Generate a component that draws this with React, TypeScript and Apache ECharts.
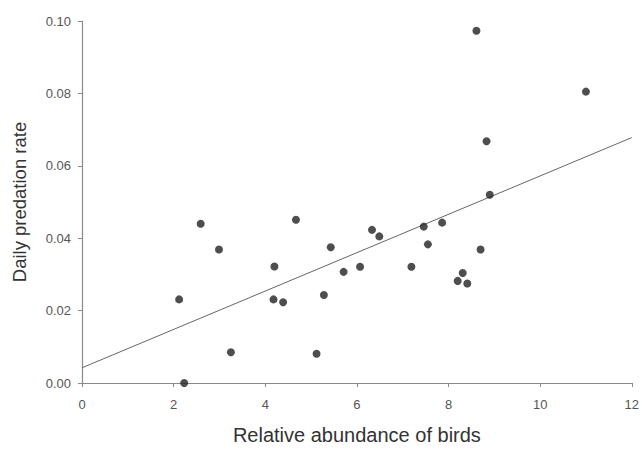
import React, { useEffect, useRef } from "react";
import * as echarts from "echarts";

const abundance = [
  2.12, 2.23, 2.59, 2.99, 3.25, 4.2, 4.18, 4.39, 4.67, 5.12, 5.28, 5.43, 5.71, 6.07,
  6.33, 6.49, 7.19, 7.46, 7.55, 7.86, 8.2, 8.31, 8.41, 8.7, 8.61, 11.0, 8.83, 8.9,
];
const predation = [
  0.0231, 0.0, 0.0440, 0.0369, 0.0085, 0.0322, 0.0231, 0.0223, 0.0451, 0.0081, 0.0243,
  0.0375, 0.0307, 0.0321, 0.0423, 0.0405, 0.0321, 0.0432, 0.0383, 0.0443, 0.0282, 0.0304,
  0.0275, 0.0369, 0.0973, 0.0805, 0.0668, 0.0520,
];
const fitX = [0, 12];
const fitY = [0.0042, 0.0678];

export default function App() {
  const ref = useRef<HTMLDivElement>(null);
  useEffect(() => {
    if (!ref.current) return;
    const chart = echarts.init(ref.current, null, { renderer: "svg" });
    const axisLineColor = "#8a8a8a";
    const font = "Liberation Sans, Arial, sans-serif";
    const labelStyle = { color: "#555", fontSize: 13, fontFamily: font };
    chart.setOption({
      animation: false,
      backgroundColor: "#ffffff",
      grid: { left: 82, right: 6, top: 21, bottom: 65, containLabel: false },
      xAxis: {
        type: "value",
        min: 0,
        max: 12,
        interval: 2,
        name: "Relative abundance of birds",
        nameLocation: "middle",
        nameGap: 42,
        nameTextStyle: { color: "#333", fontSize: 20, fontFamily: font },
        axisLine: { show: true, lineStyle: { color: axisLineColor, width: 1.2 } },
        axisTick: { show: true, length: 4, lineStyle: { color: axisLineColor } },
        axisLabel: { ...labelStyle, margin: 15 },
        splitLine: { show: false },
      },
      yAxis: {
        type: "value",
        min: 0,
        max: 0.1,
        interval: 0.02,
        name: "Daily predation rate",
        nameLocation: "middle",
        nameGap: 53,
        nameTextStyle: { color: "#333", fontSize: 18.5, fontFamily: font },
        axisLine: { show: true, lineStyle: { color: axisLineColor, width: 1.2 } },
        axisTick: { show: true, length: 4, lineStyle: { color: axisLineColor } },
        axisLabel: { ...labelStyle, margin: 11, formatter: (v: number) => v.toFixed(2) },
        splitLine: { show: false },
      },
      series: [
        {
          type: "line",
          data: fitX.map((x, i) => [x, fitY[i]]),
          showSymbol: false,
          symbol: "none",
          lineStyle: { color: "#666", width: 1 },
          silent: true,
          z: 1,
        },
        {
          type: "scatter",
          data: abundance.map((x, i) => [x, predation[i]]),
          symbol: "circle",
          symbolSize: 8,
          itemStyle: { color: "#222" },
          z: 2,
        },
      ],
    });
    return () => chart.dispose();
  }, []);
  return (
    <div
      ref={ref}
      style={{ position: "fixed", left: 0, top: 0, width: 642, height: 450, background: "#fff" }}
    />
  );
}
